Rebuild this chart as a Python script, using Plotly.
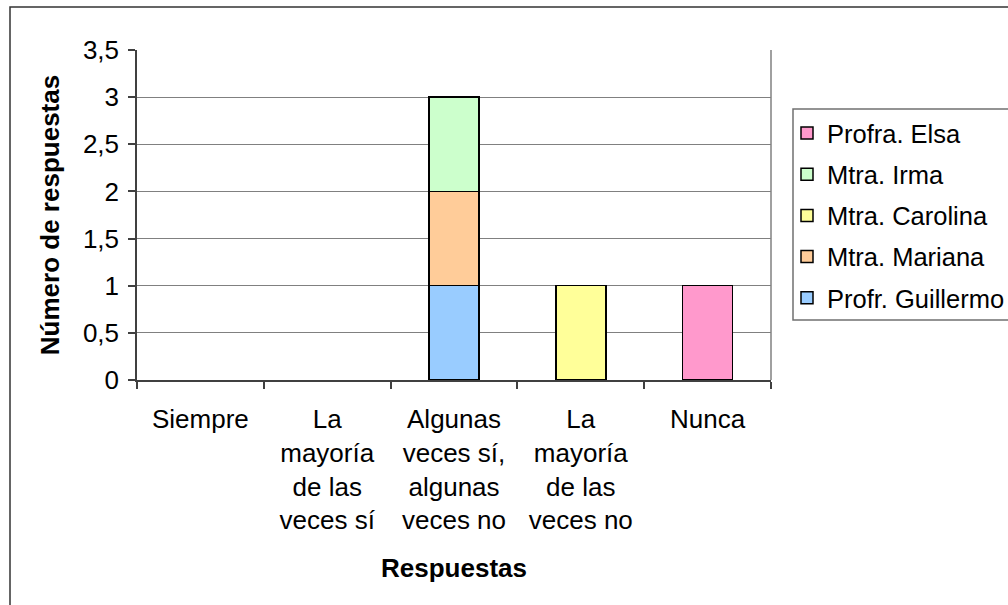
import plotly.graph_objects as go

# Categories (x axis) and responses per teacher
categorias = [
    "Siempre",
    "La<br>mayoría<br>de las<br>veces sí",
    "Algunas<br>veces sí,<br>algunas<br>veces no",
    "La<br>mayoría<br>de las<br>veces no",
    "Nunca",
]
guillermo = [0, 0, 1, 0, 0]
mariana = [0, 0, 1, 0, 0]
carolina = [0, 0, 0, 1, 0]
irma = [0, 0, 1, 0, 0]
elsa = [0, 0, 0, 0, 1]

# stacking order bottom -> top; legend lists them top -> bottom
series = [
    ("Profr. Guillermo", guillermo, "#99CCFF"),
    ("Mtra. Mariana", mariana, "#FFCC99"),
    ("Mtra. Carolina", carolina, "#FFFF99"),
    ("Mtra. Irma", irma, "#CCFFCC"),
    ("Profra. Elsa", elsa, "#FF99CC"),
]

FONT = "Liberation Sans, Arial, sans-serif"
FS = 26

fig = go.Figure()
for i, (nombre, valores, color) in enumerate(series):
    # empty segments are left out so no outline is drawn for them
    fig.add_trace(go.Bar(
        x=categorias,
        y=[v if v else None for v in valores],
        name=nombre,
        legendgroup=nombre,
        legendrank=len(series) - i,
        marker=dict(color=color, line=dict(color="#000000", width=1.5)),
    ))

W, H = 1008, 605
L, R, T, B = 137, 237, 50, 225
pw = W - L - R
ph = H - T - B


def px_x(p):
    return (p - L) / pw


def px_y(p):
    return (H - B - p) / ph


fig.update_layout(
    width=W,
    height=H,
    margin=dict(l=L, r=R, t=T, b=B, autoexpand=False),
    paper_bgcolor="white",
    plot_bgcolor="white",
    barmode="stack",
    bargap=0.606,
    separators=",.",
    font=dict(family=FONT, size=FS, color="#000000"),
    showlegend=True,
    legend=dict(
        x=px_x(787),
        y=px_y(110),
        xanchor="left",
        yanchor="top",
        traceorder="grouped",
        tracegroupgap=5,
        borderwidth=0,
        bgcolor="rgba(0,0,0,0)",
        font=dict(family=FONT, size=25.5, color="#000000"),
    ),
    xaxis=dict(
        type="category",
        showline=True,
        linecolor="#404040",
        linewidth=1.5,
        ticks="outside",
        ticklen=7,
        tickcolor="#404040",
        tickwidth=1.5,
        tickson="boundaries",
        showgrid=False,
        tickfont=dict(family=FONT, size=FS, color="#000000"),
        ticklabelstandoff=15,
        title=dict(
            text="<b>Respuestas</b>",
            font=dict(family=FONT, size=FS, color="#000000"),
            standoff=24,
        ),
        fixedrange=True,
    ),
    yaxis=dict(
        range=[0, 3.5],
        dtick=0.5,
        tick0=0,
        showline=True,
        linecolor="#404040",
        linewidth=1.5,
        ticks="outside",
        ticklen=7,
        tickcolor="#404040",
        tickwidth=1.5,
        showgrid=True,
        gridcolor="#808080",
        gridwidth=1,
        zeroline=False,
        tickfont=dict(family=FONT, size=FS, color="#000000"),
        ticklabelstandoff=4,
        title=dict(
            text="<b>Número de respuestas</b>",
            font=dict(family=FONT, size=FS, color="#000000"),
            standoff=16,
        ),
        fixedrange=True,
    ),
    shapes=[
        # right edge of the plot area
        dict(type="line", xref="x domain", yref="y domain",
             x0=1, x1=1, y0=0, y1=1,
             line=dict(color="#808080", width=1.5), layer="above"),
        # chart frame
        dict(type="rect", xref="paper", yref="paper",
             x0=px_x(10), x1=px_x(1030), y0=px_y(7), y1=px_y(640),
             line=dict(color="#333333", width=1.5), layer="below"),
        # legend frame
        dict(type="rect", xref="paper", yref="paper",
             x0=px_x(793), x1=px_x(1030), y0=px_y(109), y1=px_y(320),
             line=dict(color="#707070", width=1.5), layer="below"),
    ],
)

fig.write_html("out.html")
